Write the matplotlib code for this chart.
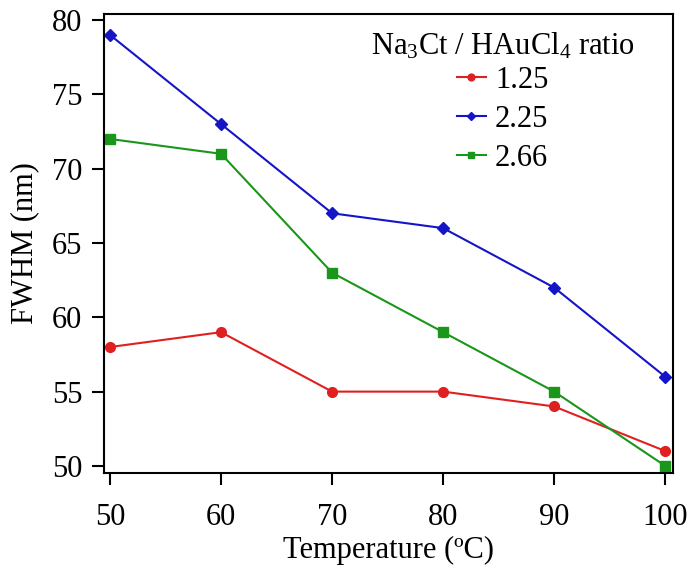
import numpy as np
import matplotlib
matplotlib.use('Agg')
import matplotlib.pyplot as plt

plt.rcParams['font.family'] = 'Liberation Serif'
plt.rcParams['mathtext.fontset'] = 'custom'
plt.rcParams['mathtext.rm'] = 'Liberation Serif'
plt.rcParams['mathtext.it'] = 'Liberation Serif:italic'

# Daten
Temperatur = [50, 60, 70, 80, 90, 100]
R_125 = [58, 59, 55, 55, 54, 51]
R_225 = [79, 73, 67, 66, 62, 56]
R_266 = [72, 71, 63, 59, 55, 50]

fig = plt.figure(figsize=(6.91, 5.65), dpi=100)
ax = fig.add_axes([0.1505, 0.163, 0.8235, 0.812])

ax.plot(Temperatur, R_125, color='#e02020', marker='o', markersize=7, lw=1.5, label='1.25')
ax.plot(Temperatur, R_225, color='#1515c8', marker='D', markersize=6.5, lw=1.5, label='2.25')
ax.plot(Temperatur, R_266, color='#1a961a', marker='s', markersize=7, lw=1.5, label='2.66')

ax.set_xlim(49.46, 100.7)
ax.set_ylim(49.53, 80.4)
ax.set_xticks(np.arange(50, 101, 10))
ax.set_yticks(np.arange(50, 81, 5))
ax.tick_params(direction='out', length=8.5, width=1.5, labelsize=22)
ax.tick_params(axis='x', pad=13)
ax.tick_params(axis='y', pad=7)
for s in ax.spines.values():
    s.set_linewidth(1.5)

ax.set_xlabel('Temperature (ºC)', fontsize=22, labelpad=3)
ax.set_ylabel('FWHM (nm)', fontsize=22, labelpad=9)

leg = ax.legend(title='Na$_3$Ct / HAuCl$_4$ ratio', loc='upper right', frameon=False,
                bbox_to_anchor=(0.954, 0.989),
                fontsize=22, title_fontsize=22, handlelength=0.95, handletextpad=0.3,
                labelspacing=0.32, borderaxespad=0.2, borderpad=0.2, markerscale=0.7)
leg._legend_box.align = 'center'
leg._legend_box.sep = 3

fig.savefig('out.png', dpi=100)
